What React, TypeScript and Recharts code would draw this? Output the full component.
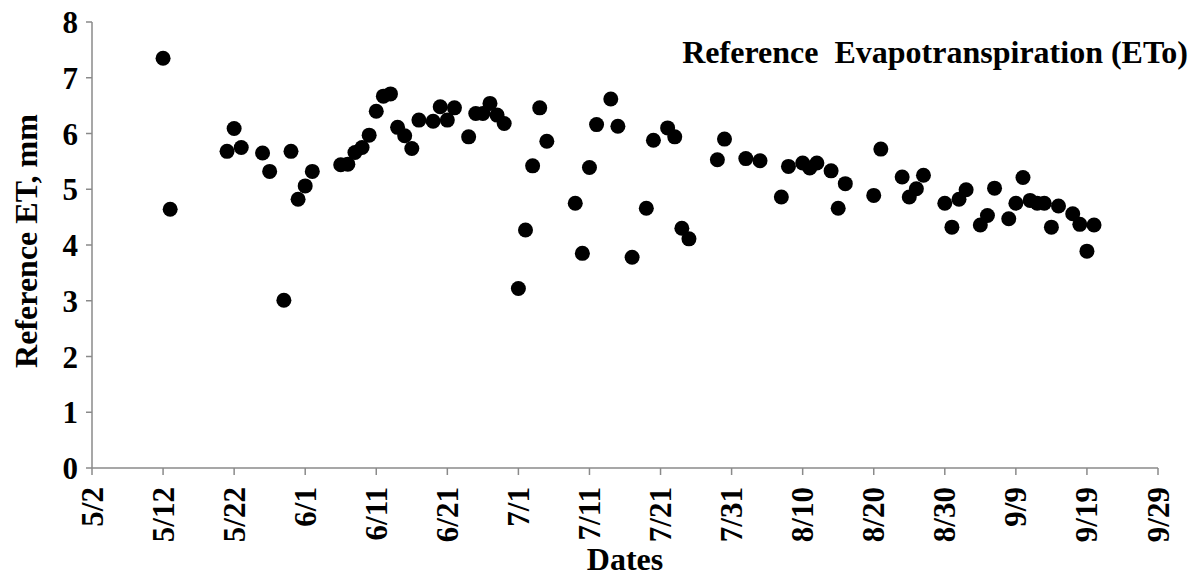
import React from 'react';
import { ScatterChart, Scatter, XAxis, YAxis } from 'recharts';

// measurement dates (M/D) and daily ETo, mm
const dates = [
  '5/12', '5/13', '5/21', '5/22', '5/23', '5/26', '5/27', '5/29', '5/30', '5/31',
  '6/1', '6/2', '6/6', '6/7', '6/8', '6/9', '6/10', '6/11', '6/12', '6/13',
  '6/14', '6/15', '6/16', '6/17', '6/19', '6/20', '6/21', '6/22', '6/24', '6/25',
  '6/26', '6/27', '6/28', '6/29', '7/1', '7/2', '7/3', '7/4', '7/5', '7/9',
  '7/10', '7/11', '7/12', '7/14', '7/15', '7/17', '7/19', '7/20', '7/22', '7/23',
  '7/24', '7/25', '7/29', '7/30', '8/2', '8/4', '8/7', '8/8', '8/10', '8/11',
  '8/12', '8/14', '8/15', '8/16', '8/20', '8/21', '8/24', '8/25', '8/26', '8/27',
  '8/30', '8/31', '9/1', '9/2', '9/4', '9/5', '9/6', '9/8', '9/9', '9/10',
  '9/11', '9/12', '9/13', '9/14', '9/15', '9/17', '9/18', '9/19', '9/20',
];

const eto = [
  7.35, 4.64, 5.68, 6.09, 5.75, 5.65, 5.32, 3.01, 5.68, 4.82,
  5.06, 5.32, 5.44, 5.45, 5.66, 5.75, 5.97, 6.40, 6.67, 6.71,
  6.11, 5.96, 5.73, 6.24, 6.22, 6.48, 6.24, 6.46, 5.94, 6.36,
  6.36, 6.54, 6.33, 6.18, 3.22, 4.27, 5.42, 6.46, 5.86, 4.75,
  3.85, 5.39, 6.16, 6.62, 6.13, 3.78, 4.66, 5.88, 6.10, 5.94,
  4.30, 4.11, 5.53, 5.90, 5.55, 5.51, 4.86, 5.41, 5.47, 5.38,
  5.47, 5.33, 4.66, 5.10, 4.89, 5.72, 5.22, 4.86, 5.01, 5.25,
  4.75, 4.32, 4.82, 4.99, 4.36, 4.53, 5.02, 4.47, 4.75, 5.21,
  4.80, 4.75, 4.75, 4.32, 4.70, 4.56, 4.37, 3.89, 4.36,
];

const xTickDates = ['5/2', '5/12', '5/22', '6/1', '6/11', '6/21', '7/1', '7/11', '7/21', '7/31', '8/10', '8/20', '8/30', '9/9', '9/19', '9/29'];
const yTicks = [0, 1, 2, 3, 4, 5, 6, 7, 8];

const DAY = 86400000;
const base = Date.UTC(2014, 4, 2);
const toDay = (s: string) => {
  const [m, d] = s.split('/').map(Number);
  return (Date.UTC(2014, m - 1, d) - base) / DAY;
};
const toLabel = (v: number) => {
  const dt = new Date(base + v * DAY);
  return `${dt.getUTCMonth() + 1}/${dt.getUTCDate()}`;
};

const data = dates.map((d, i) => ({ x: toDay(d), y: eto[i] }));
const xTicks = xTickDates.map(toDay);

const FONT = '"Liberation Serif", "Times New Roman", serif';
const AXIS = '#8a8a8a';

const XTick = (props: any) => {
  const { x, y, payload } = props;
  const ty = y + 10;
  return (
    <text
      x={x}
      y={ty}
      transform={`rotate(-90, ${x}, ${ty})`}
      textAnchor="end"
      dominantBaseline="central"
      fontFamily={FONT}
      fontWeight="bold"
      fontSize={31}
      fill="#000"
    >
      {toLabel(payload.value)}
    </text>
  );
};

const Dot = (props: any) => <circle cx={props.cx} cy={props.cy} r={7.5} fill="#000" />;

export default function App() {
  return (
    <div style={{ position: 'absolute', left: 0, top: 0, width: 1198, height: 580, background: '#fff' }}>
      <ScatterChart width={1198} height={580} margin={{ top: 22, right: 40, left: 32, bottom: 32 }}>
        <XAxis
          type="number"
          dataKey="x"
          domain={[0, 150]}
          ticks={xTicks}
          interval={0}
          height={80}
          stroke={AXIS}
          strokeWidth={1.5}
          tickSize={7}
          tick={<XTick />}
        />
        <YAxis
          type="number"
          dataKey="y"
          domain={[0, 8]}
          ticks={yTicks}
          interval={0}
          width={60}
          stroke={AXIS}
          strokeWidth={1.5}
          tickSize={6}
          tickMargin={8}
          tick={{ fill: '#000', fontFamily: FONT, fontWeight: 'bold', fontSize: 31 }}
        />
        <Scatter data={data} fill="#000" shape={<Dot />} isAnimationActive={false} />
      </ScatterChart>
      <svg width={1198} height={580} style={{ position: 'absolute', left: 0, top: 0, pointerEvents: 'none' }}>
        <text x={1188} y={63} textAnchor="end" fontFamily={FONT} fontWeight="bold" fontSize={32} style={{ whiteSpace: 'pre' }}>
          {'Reference  Evapotranspiration (ETo)'}
        </text>
        <text x={625} y={570} textAnchor="middle" fontFamily={FONT} fontWeight="bold" fontSize={32}>
          Dates
        </text>
        <text x={37} y={241} transform="rotate(-90, 37, 241)" textAnchor="middle" fontFamily={FONT} fontWeight="bold" fontSize={32}>
          Reference ET, mm
        </text>
      </svg>
    </div>
  );
}
